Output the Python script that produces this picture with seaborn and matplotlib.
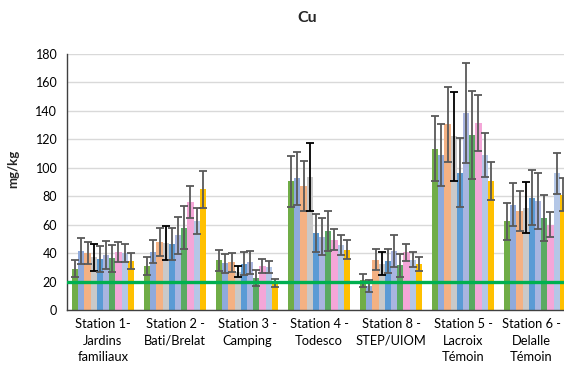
import matplotlib
matplotlib.use("Agg")
import matplotlib.pyplot as plt
import matplotlib.transforms as mtransforms
import seaborn as sns
import pandas as pd
import numpy as np

# Sampling stations (x categories)
stations = [
    "Station 1-\nJardins\nfamiliaux",
    "Station 2 -\nBati/Brelat",
    "Station 3 -\nCamping",
    "Station 4 -\nTodesco",
    "Station 8 -\nSTEP/UIOM",
    "Station 5 -\nLacroix\nTémoin",
    "Station 6 -\nDelalle\nTémoin",
]

# Sampling campaigns (hue series)
series = [f"Campagne {i}" for i in range(1, 11)]

# Mean Cu concentration (mg/kg), one list per station, one value per campaign
st1_mean = [29, 41.5, 40, 37, 36, 38.7, 36.5, 40.5, 40, 34.5]
st2_mean = [31, 41, 48, 47, 46.5, 52.5, 58, 76, 62.5, 85]
st3_mean = [35, 33, 33.5, 27, 32.5, 33.5, 22.5, 31, 30, 19]
st4_mean = [90.5, 92.5, 87, 93.5, 54, 51.5, 55.5, 49.5, 46, 42.5]
st8_mean = [21, 17, 35.5, 32.5, 34.5, 41.5, 31.5, 40.5, 35.5, 32.5]
st5_mean = [113.5, 109, 130.5, 122, 96.5, 138.5, 123, 131.5, 109, 90.5]
st6_mean = [62.5, 74, 69.5, 72, 79, 76.5, 65, 60, 96, 81]

# Standard deviation (mg/kg)
st1_sd = [6, 9, 8, 9.5, 9, 10, 9.5, 7, 6.3, 5.5]
st2_sd = [6.5, 8, 10, 12, 11.5, 13, 15, 11.5, 9, 13]
st3_sd = [7.3, 6.7, 6.8, 4, 8, 8.3, 5.6, 5, 4.2, 3]
st4_sd = [18, 18.7, 17.6, 23.6, 13.4, 13, 14.3, 7.5, 7, 6.5]
st8_sd = [4.6, 4, 7.3, 8.2, 8.7, 11, 8.2, 6, 5.5, 4.8]
st5_sd = [23, 21.7, 26.5, 31, 24.3, 35, 30.8, 20, 15.7, 13.5]
st6_sd = [13, 15, 14, 18.2, 19.5, 19.5, 16.2, 8.7, 14.7, 11.7]

threshold = 20  # reference level, mg/kg

colors = ["#70AD47", "#8FAADC", "#F4B183", "#C9C9C9", "#5B9BD5",
          "#A9B5E0", "#5AAA62", "#F4A6D8", "#B4C7E7", "#FFC000"]
err_colors = ["#595959", "#595959", "#595959", "#000000", "#595959",
              "#595959", "#595959", "#595959", "#595959", "#595959"]

means = [st1_mean, st2_mean, st3_mean, st4_mean, st8_mean, st5_mean, st6_mean]
sds = [st1_sd, st2_sd, st3_sd, st4_sd, st8_sd, st5_sd, st6_sd]

rows = []
for s, m_list, sd_list in zip(stations, means, sds):
    for h, m, sd in zip(series, m_list, sd_list):
        rows.append({"station": s, "campagne": h, "cu": m, "sd": sd})
df = pd.DataFrame(rows)

sns.set_style("white")
plt.rcParams["font.family"] = ["Lato", "DejaVu Sans"]

fig = plt.figure(figsize=(5.64, 3.75), dpi=100)
ax = fig.add_axes([67 / 564, 65 / 375, 504 / 564, 256 / 375])

sns.barplot(data=df, x="station", y="cu", hue="campagne", order=stations,
            hue_order=series, palette=colors, errorbar=None, width=0.86,
            saturation=1, linewidth=0, ax=ax, legend=False, zorder=2)

# Error bars on each bar, using the bar positions from seaborn
bar_containers = list(ax.containers)
for j, cont in enumerate(bar_containers):
    sub = df[df["campagne"] == series[j]].set_index("station").loc[stations]
    xs = [p.get_x() + p.get_width() / 2 for p in cont.patches]
    ax.errorbar(xs, sub["cu"].values, yerr=sub["sd"].values, fmt="none",
                ecolor=err_colors[j], elinewidth=1.3, capsize=2.6,
                capthick=1.3, zorder=3)

ax.axhline(threshold, color="#00B050", linewidth=2.4, zorder=4)

ax.set_ylim(0, 180)
ax.set_yticks(np.arange(0, 181, 20))
ax.set_xlim(-0.5, len(stations) - 0.5)
ax.yaxis.grid(True, color="#D9D9D9", linewidth=1)
ax.set_axisbelow(True)
for side in ["top", "right"]:
    ax.spines[side].set_visible(False)
for side in ["left", "bottom"]:
    ax.spines[side].set_color("#404040")
    ax.spines[side].set_linewidth(1)

# Category boundary ticks on the x axis
ax.set_xticks(np.arange(len(stations)))
ax.set_xticklabels(stations, fontsize=9.3, color="#000000", linespacing=1.45)
ax.tick_params(axis="x", length=0, pad=6)
ax.set_xticks(np.arange(-0.5, len(stations), 1), minor=True)
ax.tick_params(axis="x", which="minor", length=4, color="#404040")
ax.tick_params(axis="y", length=4, color="#404040", labelsize=9,
               labelcolor="#000000", pad=3)

# Nudge the last category label left so it stays inside the figure
last = ax.get_xticklabels()[-1]
last.set_transform(last.get_transform() +
                   mtransforms.ScaledTranslation(-4 / 100, 0, fig.dpi_scale_trans))

ax.set_xlabel("")
ax.set_ylabel("mg/kg", fontsize=9.5, fontweight="bold", labelpad=10)
ax.yaxis.set_label_coords(-0.095, 0.55)
fig.text(307 / 564, 1 - 18 / 375, "Cu", ha="center", va="center",
         fontsize=11.5, fontweight="bold")

fig.savefig("out.png", dpi=100)
